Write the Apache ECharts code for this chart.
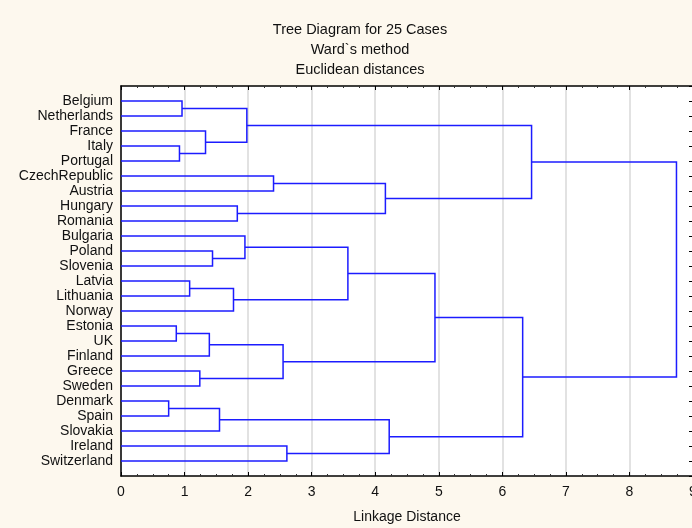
<!DOCTYPE html>
<html>
<head>
<meta charset="utf-8">
<script src="https://cdn.jsdelivr.net/npm/echarts@6/dist/echarts.min.js"></script>
<style>
  html, body { margin: 0; padding: 0; background: #fdf8ee; }
  #chart { width: 692px; height: 528px; }
</style>
</head>
<body>
<div id="chart"></div>
<script>
// Leaves of the dendrogram, top to bottom
var cases = ['Belgium', 'Netherlands', 'France', 'Italy', 'Portugal', 'CzechRepublic',
  'Austria', 'Hungary', 'Romania', 'Bulgaria', 'Poland', 'Slovenia', 'Latvia',
  'Lithuania', 'Norway', 'Estonia', 'UK', 'Finland', 'Greece', 'Sweden', 'Denmark',
  'Spain', 'Slovakia', 'Ireland', 'Switzerland'];

// Agglomeration steps: ids 0..24 are leaves, step k creates cluster id 25 + k
var mergeLeft   = [0, 3, 2, 25, 5, 7, 29, 28, 10, 9, 12, 35, 34, 15, 38, 18, 39, 37, 20, 43, 23, 44, 42, 32];
var mergeRight  = [1, 4, 26, 27, 6, 8, 30, 31, 11, 33, 13, 14, 36, 16, 17, 19, 40, 41, 21, 22, 24, 45, 46, 47];
var mergeHeight = [0.96, 0.92, 1.33, 1.98, 2.40, 1.83, 4.16, 6.46, 1.44, 1.95, 1.08, 1.77,
  3.57, 0.87, 1.39, 1.24, 2.55, 4.94, 0.75, 1.55, 2.61, 4.22, 6.32, 8.74];

var xTicks = [0, 1, 2, 3, 4, 5, 6, 7, 8, 9];

// Position of every node: height on the distance axis, row on the case axis
var nodeX = [], nodeY = [];
cases.forEach(function (c, i) { nodeX[i] = 0; nodeY[i] = i; });
var links = [];
mergeHeight.forEach(function (h, k) {
  var a = mergeLeft[k], b = mergeRight[k], id = cases.length + k;
  nodeX[id] = h;
  nodeY[id] = (nodeY[a] + nodeY[b]) / 2;
  links.push([nodeX[a], nodeY[a], nodeX[b], nodeY[b], h]);
});

var chart = echarts.init(document.getElementById('chart'), null, { renderer: 'canvas' });
var font = 'Liberation Sans, Arial, sans-serif';
var titleStyle = { fontFamily: font, fontSize: 14.5, fontWeight: 'normal', color: '#111' };

chart.setOption({
  backgroundColor: '#fdf8ee',
  animation: false,
  title: [
    { text: 'Tree Diagram for 25 Cases', left: 355, top: 17, textAlign: 'center', textStyle: titleStyle },
    { text: 'Ward`s method', left: 355, top: 37, textAlign: 'center', textStyle: titleStyle },
    { text: 'Euclidean distances', left: 355, top: 57, textAlign: 'center', textStyle: titleStyle }
  ],
  grid: {
    left: 121, right: -1, top: 86, bottom: 52,
    outerBoundsMode: 'none', containLabel: false,
    show: true, backgroundColor: '#ffffff', borderWidth: 0
  },
  xAxis: [
    {
      type: 'value', position: 'bottom', min: 0, max: 9, interval: 1,
      name: 'Linkage Distance', nameLocation: 'middle', nameGap: 34,
      nameTextStyle: { fontFamily: font, fontSize: 14, color: '#111' },
      axisLine: { show: true, onZero: false, lineStyle: { color: '#000', width: 1.5 } },
      axisTick: { show: true, inside: true, length: 4, lineStyle: { color: '#000' } },
      minorTick: { show: true, splitNumber: 4, length: 2, lineStyle: { color: '#333' } },
      axisLabel: { fontFamily: font, fontSize: 14, color: '#111', margin: 9,
        formatter: function (v) { return xTicks.indexOf(v) >= 0 ? String(v) : ''; } },
      splitLine: { show: true, lineStyle: { color: '#d9d9d9', width: 1.5 } }
    },
    {
      type: 'value', position: 'top', min: 0, max: 9, interval: 1,
      axisLine: { show: true, onZero: false, lineStyle: { color: '#000', width: 1.5 } },
      axisTick: { show: true, inside: true, length: 4, lineStyle: { color: '#000' } },
      minorTick: { show: true, splitNumber: 4, length: 2, lineStyle: { color: '#333' } },
      axisLabel: { show: false },
      splitLine: { show: false }
    }
  ],
  yAxis: [
    {
      type: 'value', position: 'left', min: -1, max: 25, interval: 1, inverse: true,
      axisLine: { show: true, onZero: false, lineStyle: { color: '#000', width: 1.5 } },
      axisTick: { show: false },
      splitLine: { show: false },
      axisLabel: { fontFamily: font, fontSize: 14, color: '#111', margin: 8,
        formatter: function (v) { return cases[v] || ''; } }
    },
    {
      type: 'value', position: 'right', min: -1, max: 25, interval: 1, inverse: true,
      axisLine: { show: false, onZero: false },
      axisTick: { show: true, inside: true, length: 4, lineStyle: { color: '#000' } },
      axisLabel: { show: false },
      splitLine: { show: false }
    }
  ],
  series: [{
    type: 'custom',
    coordinateSystem: 'cartesian2d',
    xAxisIndex: 0, yAxisIndex: 0,
    data: links,
    silent: true,
    clip: false,
    renderItem: function (params, api) {
      var pA = api.coord([api.value(0), api.value(1)]);
      var pAh = api.coord([api.value(4), api.value(1)]);
      var pBh = api.coord([api.value(4), api.value(3)]);
      var pB = api.coord([api.value(2), api.value(3)]);
      return {
        type: 'polyline',
        shape: { points: [pA, pAh, pBh, pB] },
        style: { stroke: '#1c1cff', lineWidth: 1.5, fill: null }
      };
    }
  }]
});
</script>
</body>
</html>
